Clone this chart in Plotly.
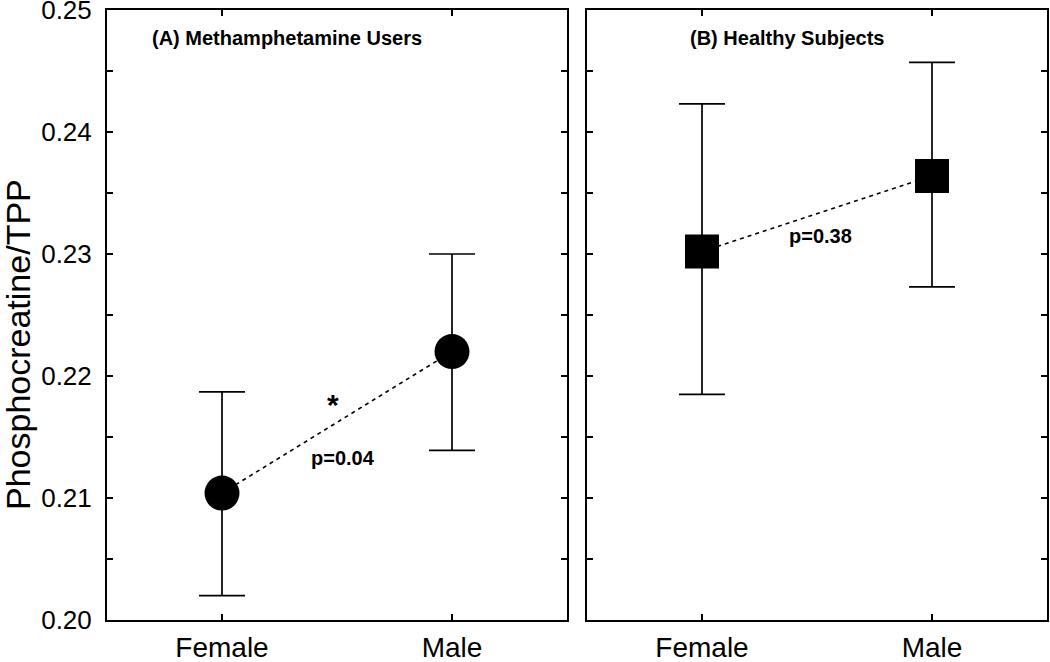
import plotly.graph_objects as go

categories = ["Female", "Male"]

# (A) Methamphetamine users
meth_mean = [0.2104, 0.2220]
meth_upper = [0.2187, 0.2300]
meth_lower = [0.2020, 0.2139]

# (B) Healthy subjects
healthy_mean = [0.2302, 0.2364]
healthy_upper = [0.2423, 0.2457]
healthy_lower = [0.2185, 0.2273]

y_tickvals = [0.200, 0.205, 0.210, 0.215, 0.220, 0.225, 0.230, 0.235, 0.240, 0.245, 0.250]
y_ticktext = ["0.20", "", "0.21", "", "0.22", "", "0.23", "", "0.24", "", "0.25"]

FONT = "Arial, Liberation Sans, Helvetica, sans-serif"
xpos = list(range(len(categories)))

fig = go.Figure()


def add_panel(means, upper, lower, symbol, size, xa, ya):
    plus = [u - m for u, m in zip(upper, means)]
    minus = [m - l for m, l in zip(means, lower)]
    fig.add_trace(go.Scatter(
        x=xpos, y=means, mode="lines",
        line=dict(color="black", width=1.6, dash="4px,4px"),
        xaxis=xa, yaxis=ya, showlegend=False, hoverinfo="skip"))
    fig.add_trace(go.Scatter(
        x=xpos, y=means, mode="markers",
        marker=dict(symbol=symbol, size=size, color="black"),
        error_y=dict(type="data", symmetric=False, array=plus, arrayminus=minus,
                     color="black", thickness=1.7, width=23),
        xaxis=xa, yaxis=ya, showlegend=False))


add_panel(meth_mean, meth_upper, meth_lower, "circle", 35, "x", "y")
add_panel(healthy_mean, healthy_upper, healthy_lower, "square", 34, "x2", "y2")

axis_common = dict(showline=True, linecolor="black", linewidth=2, mirror="ticks",
                   ticks="inside", ticklen=6, tickwidth=2, tickcolor="black",
                   showgrid=False, zeroline=False, ticklabeloverflow="allow",
                   automargin=False)

xaxis_common = dict(axis_common, range=[-0.5, 1.5], tickvals=xpos, ticktext=categories,
                    ticklabelstandoff=1,
                    tickfont=dict(family=FONT, size=28, color="black"))
yaxis_common = dict(axis_common, range=[0.20, 0.25], tickvals=y_tickvals,
                    ticktext=y_ticktext, ticklabelstandoff=8,
                    tickfont=dict(family=FONT, size=26, color="black"))

fig.update_layout(
    width=1050, height=662,
    margin=dict(l=0, r=0, t=10, b=42, autoexpand=False),
    paper_bgcolor="white", plot_bgcolor="white",
    xaxis=dict(xaxis_common, domain=[107 / 1050, 567 / 1050], anchor="y"),
    yaxis=dict(yaxis_common, domain=[0, 1], anchor="x"),
    xaxis2=dict(xaxis_common, domain=[587 / 1050, 1047 / 1050], anchor="y2"),
    yaxis2=dict(yaxis_common, domain=[0, 1], anchor="x2", showticklabels=False),
    font=dict(family=FONT, color="black"),
)

ann = [
    dict(text="<b>(A) Methamphetamine Users</b>", x=-0.313, y=0.2477, xref="x", yref="y",
         xanchor="left", yanchor="middle", showarrow=False, font=dict(size=20)),
    dict(text="<b>(B) Healthy Subjects</b>", x=-0.061, y=0.2477, xref="x2", yref="y2",
         xanchor="left", yanchor="middle", showarrow=False, font=dict(size=20)),
    dict(text="<b>*</b>", x=0.483, y=0.2177, xref="x", yref="y",
         showarrow=False, font=dict(size=30)),
    dict(text="<b>p=0.04</b>", x=0.526, y=0.2133, xref="x", yref="y",
         showarrow=False, font=dict(size=20)),
    dict(text="<b>p=0.38</b>", x=0.517, y=0.2315, xref="x2", yref="y2",
         showarrow=False, font=dict(size=20)),
    dict(text="Phosphocreatine/TPP", x=18 / 1050, y=(620 - 345) / 610, xref="paper", yref="paper",
         xanchor="center", yanchor="middle",
         textangle=-90, showarrow=False, font=dict(size=34)),
]
fig.update_layout(annotations=ann)

fig.write_html("out.html", config={"displayModeBar": False},
               post_script="document.body.style.margin='0';")
